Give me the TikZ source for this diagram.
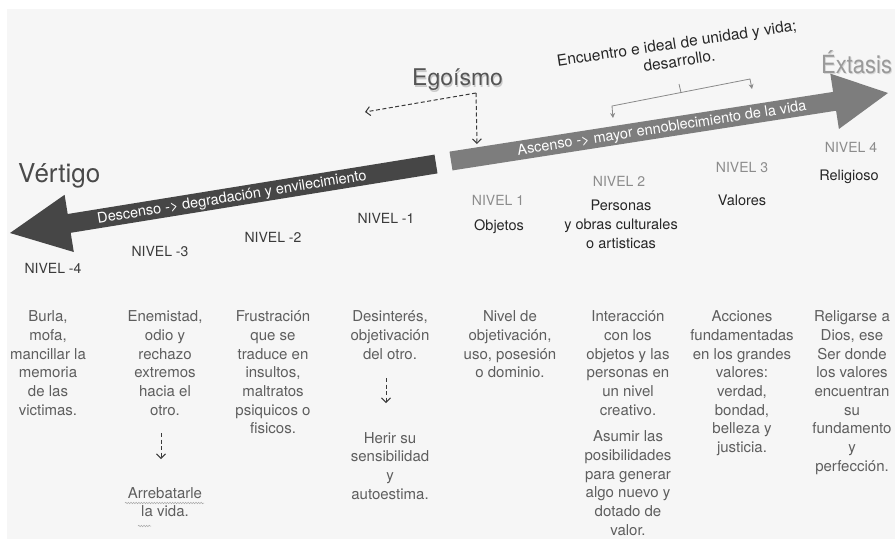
\documentclass[tikz,border=0pt]{standalone}
\usepackage{fontspec}
\setmainfont{TeX Gyre Heros}
\usetikzlibrary{arrows.meta,decorations.pathmorphing,calc}
\definecolor{panel}{HTML}{F6F6F6}
\definecolor{darkarr}{HTML}{464646}
\definecolor{lightarr}{HTML}{7D7D7D}
\definecolor{negtxt}{HTML}{3A3A3A}
\definecolor{postxt}{HTML}{8C8C8C}
\definecolor{headtxt}{HTML}{262626}
\definecolor{desctxt}{HTML}{5E5E5E}
\definecolor{vertc}{HTML}{4A4A4A}
\definecolor{egoc}{HTML}{555555}
\definecolor{extc}{HTML}{9A9A9A}
\definecolor{brkc}{HTML}{8A8A8A}
\definecolor{squigc}{HTML}{A8A8A8}
\begin{document}
\begin{tikzpicture}[x=1pt,y=-1pt,
  lvlneg/.style={font=\fontsize{14}{16}\selectfont, text=negtxt, inner sep=0},
  lvlpos/.style={font=\fontsize{14}{16}\selectfont, text=postxt, inner sep=0},
  headbox/.style={font=\fontsize{14.5}{19}\selectfont, text=headtxt, align=center, inner sep=0},
  descbox/.style={font=\fontsize{15}{18.7}\selectfont, text=desctxt, align=center, anchor=north, inner sep=0},
  dasharrow/.style={draw=negtxt, line width=1pt, dash pattern=on 4pt off 2.5pt, -{Straight Barb[length=4.5pt,width=9pt]}},
  arrtext/.style={font=\fontsize{14.5}{16}\selectfont, text=white, inner sep=0},
  brk/.style={draw=brkc, line width=0.8pt},
  squig/.style={draw=squigc, line width=0.5pt, decorate, decoration={snake, amplitude=0.7pt, segment length=2.6pt}}
]
\useasboundingbox (0,0) rectangle (895,539);
\fill[white] (0,0) rectangle (895,539);
\fill[panel] (7,9) rectangle (895,539);

% dark descending arrow
\fill[darkarr] (434.5,154.6) -- (67.7,214.0) -- (64.6,194.8) -- (10,233) -- (73.8,252.0) -- (70.7,232.8) -- (437.5,173.4) -- cycle;
\node[arrtext, rotate=9.2] (desc) at (232,198) {Descenso -> degradación y envilecimiento};

% light ascending arrow
\fill[lightarr] (449.5,151.6) -- (833.1,91.9) -- (830.3,73.6) -- (888,93) -- (838.9,129.0) -- (836.1,110.7) -- (452.5,170.4) -- cycle;
\node[arrtext, rotate=8.85] (asc) at (662,129) {Ascenso -> mayor ennoblecimiento de la vida};

% titles
\node[font=\fontsize{26}{28}\selectfont, text=vertc, anchor=base west, inner sep=0] (vert) at (18,182) {Vértigo};
\node[font=\fontsize{23}{25}\selectfont, text=black, opacity=0.18, anchor=base west, inner sep=0] at (413,87) {Egoísmo};
\node[font=\fontsize{23}{25}\selectfont, text=egoc, anchor=base west, inner sep=0] (ego) at (412,85.5) {Egoísmo};
\node[font=\fontsize{25}{27}\selectfont, text=black, opacity=0.12, anchor=base west, inner sep=0, xscale=0.88, transform shape] at (822,74.5) {Éxtasis};
\node[font=\fontsize{25}{27}\selectfont, text=extc, anchor=base west, inner sep=0, xscale=0.88, transform shape] (ext) at (821,73) {Éxtasis};

% Egoismo dashed arrows
\coordinate (egocorner) at (476,93);
\coordinate (egoleft) at (365,112);
\coordinate (egodown) at (477,144);
\draw[dasharrow] (egocorner) -- (egoleft);
\draw[dasharrow] (egocorner) -- (egodown);

% encuentro text and bracket
\node[font=\fontsize{15.5}{18}\selectfont, text=headtxt, align=center, rotate=8.5, inner sep=0] (enc) at (678,52) {Encuentro e ideal de unidad y vida;\\desarrollo.};
\coordinate (bLt) at (613,118);
\coordinate (bLc) at (612,106);
\coordinate (bRc) at (750,79);
\coordinate (bRt) at (752,89);
\coordinate (bMa) at (681,92.5);
\coordinate (bMb) at (679,84);
\draw[brk, {Stealth[length=5pt,width=5pt]}-{Stealth[length=5pt,width=5pt]}] (bLt) -- (bLc) -- (bRc) -- (bRt);
\draw[brk] (bMa) -- (bMb);

% level labels
\node[lvlneg] (n4) at (53,268) {NIVEL -4};
\node[lvlneg] (n3) at (160,251) {NIVEL -3};
\node[lvlneg] (n2) at (273,237) {NIVEL -2};
\node[lvlneg] (n1) at (386,218) {NIVEL -1};
\node[lvlpos] (p1) at (498,200) {NIVEL 1};
\node[lvlpos] (p2) at (619,181) {NIVEL 2};
\node[lvlpos] (p3) at (742,167) {NIVEL 3};
\node[lvlpos] (p4) at (851,147) {NIVEL 4};

\node[headbox] (h1) at (499,227) {Objetos};
\node[headbox, anchor=north] (h2) at (621,200) {Personas\\y obras culturales\\o artisticas};
\node[headbox] (h3) at (742,200) {Valores};
\node[headbox] (h4) at (849,177) {Religioso};

% descriptions
\node[descbox] (d4) at (48,310.5) {Burla,\\mofa,\\mancillar la\\memoria\\de las\\victimas.};
\node[descbox] (d3) at (165,310.5) {Enemistad,\\odio y\\rechazo\\extremos\\hacia el\\otro.};
\node[descbox] (d3b) at (165,487) {Arrebatarle\\la vida.};
\node[descbox] (d2) at (273,310.5) {Frustración\\que se\\traduce en\\insultos,\\maltratos\\psiquicos o\\fisicos.};
\node[descbox] (d1) at (390,310.5) {Desinterés,\\objetivación\\del otro.};
\node[descbox] (d1b) at (390,432) {Herir su\\sensibilidad\\y\\autoestima.};
\node[descbox] (e1) at (510,310.5) {Nivel de\\objetivación,\\uso, posesión\\o dominio.};
\node[descbox] (e2) at (628,310.5) {Interacción\\con los\\objetos y las\\personas en\\un nivel\\creativo.\\[8pt]Asumir las\\posibilidades\\para generar\\algo nuevo y\\dotado de\\valor.};
\node[descbox] (e3) at (742,310.5) {Acciones\\fundamentadas\\en los grandes\\valores:\\verdad,\\bondad,\\belleza y\\justicia.};
\node[descbox] (e4) at (852,310.5) {Religarse a\\Dios, ese\\Ser donde\\los valores\\encuentran\\su\\fundamento\\y\\perfección.};

% small dashed arrows
\coordinate (a3s) at (161,433);
\coordinate (a3e) at (161,459);
\coordinate (a1s) at (386,378);
\coordinate (a1e) at (386,403);
\draw[dasharrow] (a3s) -- (a3e);
\draw[dasharrow] (a1s) -- (a1e);

% spell-check squiggles
\draw[squig] (125,503) -- (204,503);
\draw[squig] (138,526) -- (151,526);
\end{tikzpicture}
\end{document}
